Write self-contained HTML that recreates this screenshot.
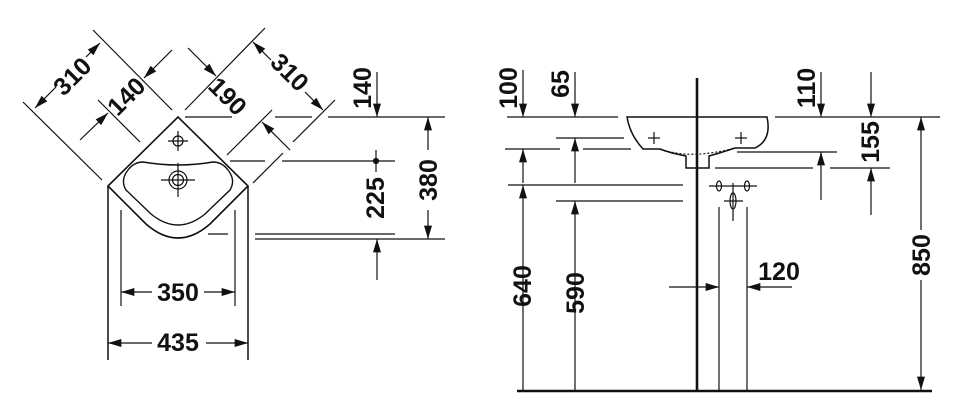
<!DOCTYPE html>
<html><head><meta charset="utf-8"><style>
html,body{margin:0;padding:0;background:#fff;}
svg{display:block;}
text{font-family:"Liberation Sans Narrow","Liberation Sans",sans-serif;font-weight:bold;font-size:25px;fill:#111;}
</style></head><body>
<svg width="960" height="418" viewBox="0 0 960 418" xmlns="http://www.w3.org/2000/svg">
<defs>
<marker id="a" viewBox="0 0 10 6" refX="10" refY="3" markerWidth="14" markerHeight="8" markerUnits="userSpaceOnUse" orient="auto"><path d="M0,0 L10,3 L0,6 Z" fill="#111"/></marker>
</defs>
<g stroke="#111" stroke-width="1.2" fill="none">
<!-- LEFT: corner sink -->
<path d="M108,186 L178,117 L248,186 L210,224 Q178,252 146,224 Z" stroke-width="1.6"/>
<path d="M143,162 Q178,168 213,162 Q222,162 228,170 Q236,180 230,190 L205,214 Q178,236 151,214 L126,190 Q120,180 128,170 Q134,162 143,162 Z" stroke-width="1.4"/>
<circle cx="178" cy="180" r="9"/><circle cx="178" cy="180" r="5.5"/>
<line x1="161" y1="180" x2="195" y2="180"/><line x1="178" y1="163" x2="178" y2="197"/>
<circle cx="178" cy="141" r="5"/><line x1="168" y1="141" x2="188" y2="141"/><line x1="178" y1="131" x2="178" y2="151"/>
<line x1="108" y1="186" x2="108" y2="360" stroke-width="1.5"/>
<line x1="248" y1="186" x2="248" y2="360" stroke-width="1.5"/>
<line x1="121" y1="210" x2="121" y2="306"/>
<line x1="235" y1="210" x2="235" y2="306"/>
<line x1="152" y1="292" x2="121" y2="292" marker-end="url(#a)"/>
<line x1="204" y1="292" x2="235" y2="292" marker-end="url(#a)"/>
<line x1="152" y1="343" x2="108" y2="343" marker-end="url(#a)"/>
<line x1="206" y1="343" x2="248" y2="343" marker-end="url(#a)"/>
<line x1="93" y1="30" x2="172" y2="110"/>
<line x1="23" y1="102" x2="102" y2="180"/>
<line x1="56" y1="87" x2="35" y2="108" marker-end="url(#a)"/>
<line x1="86" y1="57" x2="100" y2="43" marker-end="url(#a)"/>
<line x1="98" y1="100" x2="140" y2="142"/>
<line x1="80" y1="140" x2="108" y2="113" marker-end="url(#a)"/>
<line x1="172" y1="50" x2="144" y2="78" marker-end="url(#a)"/>
<line x1="265" y1="28" x2="185" y2="110"/>
<line x1="335" y1="100" x2="293" y2="142"/>
<line x1="271" y1="60" x2="253" y2="42" marker-end="url(#a)"/>
<line x1="305" y1="92" x2="323" y2="110" marker-end="url(#a)"/>
<line x1="188" y1="48" x2="216" y2="76" marker-end="url(#a)"/>
<line x1="290" y1="150" x2="262" y2="122" marker-end="url(#a)"/>
<line x1="272" y1="110" x2="227" y2="155"/>
<line x1="283" y1="153" x2="253" y2="183"/>
<line x1="185" y1="117" x2="232" y2="117"/>
<line x1="275" y1="117" x2="312" y2="117"/>
<line x1="328" y1="117" x2="445" y2="117"/>
<line x1="230" y1="161" x2="265" y2="161"/>
<line x1="282" y1="161" x2="395" y2="161"/>
<circle cx="376" cy="161" r="2.5" fill="#111"/>
<line x1="376" y1="150" x2="376" y2="172"/>
<line x1="208" y1="234" x2="228" y2="234"/>
<line x1="255" y1="234" x2="395" y2="234"/>
<line x1="255" y1="239" x2="445" y2="239"/>
<line x1="377" y1="72" x2="377" y2="117" marker-end="url(#a)"/>
<line x1="377" y1="280" x2="377" y2="239" marker-end="url(#a)"/>
<line x1="428" y1="150" x2="428" y2="117" marker-end="url(#a)"/>
<line x1="428" y1="210" x2="428" y2="239" marker-end="url(#a)"/>
<!-- RIGHT: side view -->
<line x1="697" y1="78" x2="697" y2="392" stroke-width="2.6"/>
<line x1="517" y1="391" x2="932" y2="391" stroke-width="2.6"/>
<path d="M627,117 L767,117 Q772,140 755,148 L735,148 Q720,153 709,156 L709,168 L686,168 L686,156 Q670,153 660,149 L643,149 Q630,135 627,117 Z" stroke-width="1.5"/>
<path d="M660,149 Q690,160 735,148" stroke-dasharray="2,2"/>
<line x1="648" y1="138" x2="660" y2="138"/><line x1="654" y1="132" x2="654" y2="144"/>
<line x1="735" y1="138" x2="747" y2="138"/><line x1="741" y1="132" x2="741" y2="144"/>
<line x1="507" y1="117" x2="618" y2="117"/>
<line x1="775" y1="117" x2="940" y2="117"/>
<line x1="556" y1="138" x2="624" y2="138"/>
<line x1="505" y1="149" x2="560" y2="149"/>
<line x1="583" y1="149" x2="631" y2="149"/>
<line x1="508" y1="185" x2="683" y2="185"/>
<line x1="556" y1="201" x2="683" y2="201"/>
<line x1="737" y1="152" x2="837" y2="152"/>
<line x1="715" y1="168" x2="813" y2="168"/>
<line x1="830" y1="168" x2="890" y2="168"/>
<line x1="523" y1="70" x2="523" y2="117" marker-end="url(#a)"/>
<line x1="575" y1="72" x2="575" y2="117" marker-end="url(#a)"/>
<line x1="523" y1="183" x2="523" y2="149" marker-end="url(#a)"/>
<line x1="523" y1="390" x2="523" y2="185" marker-end="url(#a)"/>
<line x1="575" y1="183" x2="575" y2="138" marker-end="url(#a)"/>
<line x1="575" y1="390" x2="575" y2="201" marker-end="url(#a)"/>
<line x1="821" y1="72" x2="821" y2="117" marker-end="url(#a)"/>
<line x1="871" y1="72" x2="871" y2="117" marker-end="url(#a)"/>
<line x1="821" y1="200" x2="821" y2="152" marker-end="url(#a)"/>
<line x1="871" y1="215" x2="871" y2="168" marker-end="url(#a)"/>
<line x1="921" y1="230" x2="921" y2="117" marker-end="url(#a)"/>
<line x1="921" y1="280" x2="921" y2="390" marker-end="url(#a)"/>
<ellipse cx="719" cy="186" rx="2.5" ry="5"/>
<ellipse cx="747" cy="186" rx="2.5" ry="5"/>
<ellipse cx="733" cy="201" rx="3" ry="8"/>
<line x1="709" y1="186" x2="757" y2="186"/>
<line x1="724" y1="201" x2="743" y2="201"/>
<line x1="733" y1="183" x2="733" y2="221"/>
<line x1="719" y1="207" x2="719" y2="392"/>
<line x1="747" y1="207" x2="747" y2="392"/>
<line x1="669" y1="287" x2="719" y2="287" marker-end="url(#a)"/>
<line x1="792" y1="287" x2="747" y2="287" marker-end="url(#a)"/>
</g>
<g>
<text x="178" y="301" text-anchor="middle">350</text>
<text x="178" y="351" text-anchor="middle">435</text>
<text transform="translate(72,76) rotate(-45)" text-anchor="middle" dy="9">310</text>
<text transform="translate(126,96) rotate(-45)" text-anchor="middle" dy="9">140</text>
<text transform="translate(290,72) rotate(45)" text-anchor="middle" dy="9">310</text>
<text transform="translate(228,96) rotate(45)" text-anchor="middle" dy="9">190</text>
<text transform="translate(362,88) rotate(-90)" text-anchor="middle" dy="9">140</text>
<text transform="translate(375,198) rotate(-90)" text-anchor="middle" dy="9">225</text>
<text transform="translate(428,180) rotate(-90)" text-anchor="middle" dy="9">380</text>
<text transform="translate(508,88) rotate(-90)" text-anchor="middle" dy="9">100</text>
<text transform="translate(560,84) rotate(-90)" text-anchor="middle" dy="9">65</text>
<text transform="translate(806,88) rotate(-90)" text-anchor="middle" dy="9">110</text>
<text transform="translate(870,142) rotate(-90)" text-anchor="middle" dy="9">155</text>
<text transform="translate(522,286) rotate(-90)" text-anchor="middle" dy="9">640</text>
<text transform="translate(575,293) rotate(-90)" text-anchor="middle" dy="9">590</text>
<text transform="translate(921,255) rotate(-90)" text-anchor="middle" dy="9">850</text>
<text x="779" y="280" text-anchor="middle">120</text>
</g>
</svg>
</body></html>
